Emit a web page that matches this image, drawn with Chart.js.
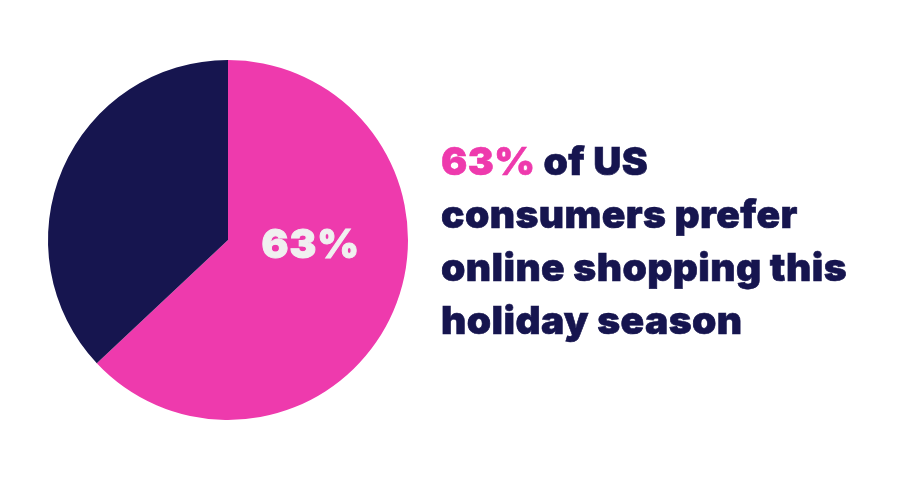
<!DOCTYPE html>
<html>
<head>
<meta charset="utf-8">
<script src="https://cdn.jsdelivr.net/npm/chart.js@4.4.1/dist/chart.umd.min.js"></script>
<style>
  body { margin: 0; background: #fff; width: 905px; height: 480px; position: relative; overflow: hidden; }
  #pie { position: absolute; left: 0; top: 0; }
  .headline {
    position: absolute; left: 441px; top: 134px;
    font-family: Inter, sans-serif; font-weight: 900; font-size: 39px;
    line-height: 53px; color: #16154F; letter-spacing: 0.4px;
    -webkit-text-stroke: 0.6px #16154F;
  }
  .headline .hi { color: #EE3AAD; -webkit-text-stroke-color: #EE3AAD; }
</style>
</head>
<body>
<canvas id="pie" width="456" height="480"></canvas>
<div class="headline"><span class="hi">63%</span> of US<br>consumers prefer<br>online shopping this<br>holiday season</div>
<script>
const categories = ['Prefer online', 'Other'];
const shares = [63, 37];
const sliceColors = ['#EE3AAD', '#16154F'];
const labelText = '63%';

const innerLabel = {
    id: 'innerLabel',
    afterDatasetsDraw(chart) {
        const arc = chart.getDatasetMeta(0).data[0];
        const ctx = chart.ctx;
        ctx.save();
        ctx.font = '900 40px Inter, sans-serif';
        ctx.letterSpacing = '1px';
        ctx.fillStyle = '#F0F0F0';
        ctx.strokeStyle = '#F0F0F0';
        ctx.lineWidth = 1;
        ctx.textAlign = 'center';
        ctx.textBaseline = 'middle';
        const x = arc.x + arc.outerRadius * 0.46;
        const y = arc.y + 6;
        ctx.fillText(labelText, x, y);
        ctx.strokeText(labelText, x, y);
        ctx.restore();
    }
};

new Chart(document.getElementById('pie').getContext('2d'), {
    type: 'pie',
    data: {
        labels: categories,
        datasets: [{
            data: shares,
            backgroundColor: sliceColors,
            borderWidth: 0
        }]
    },
    options: {
        responsive: false,
        animation: false,
        layout: { padding: 48 },
        plugins: {
            legend: { display: false },
            tooltip: { enabled: false }
        }
    },
    plugins: [innerLabel]
});
</script>
</body>
</html>
